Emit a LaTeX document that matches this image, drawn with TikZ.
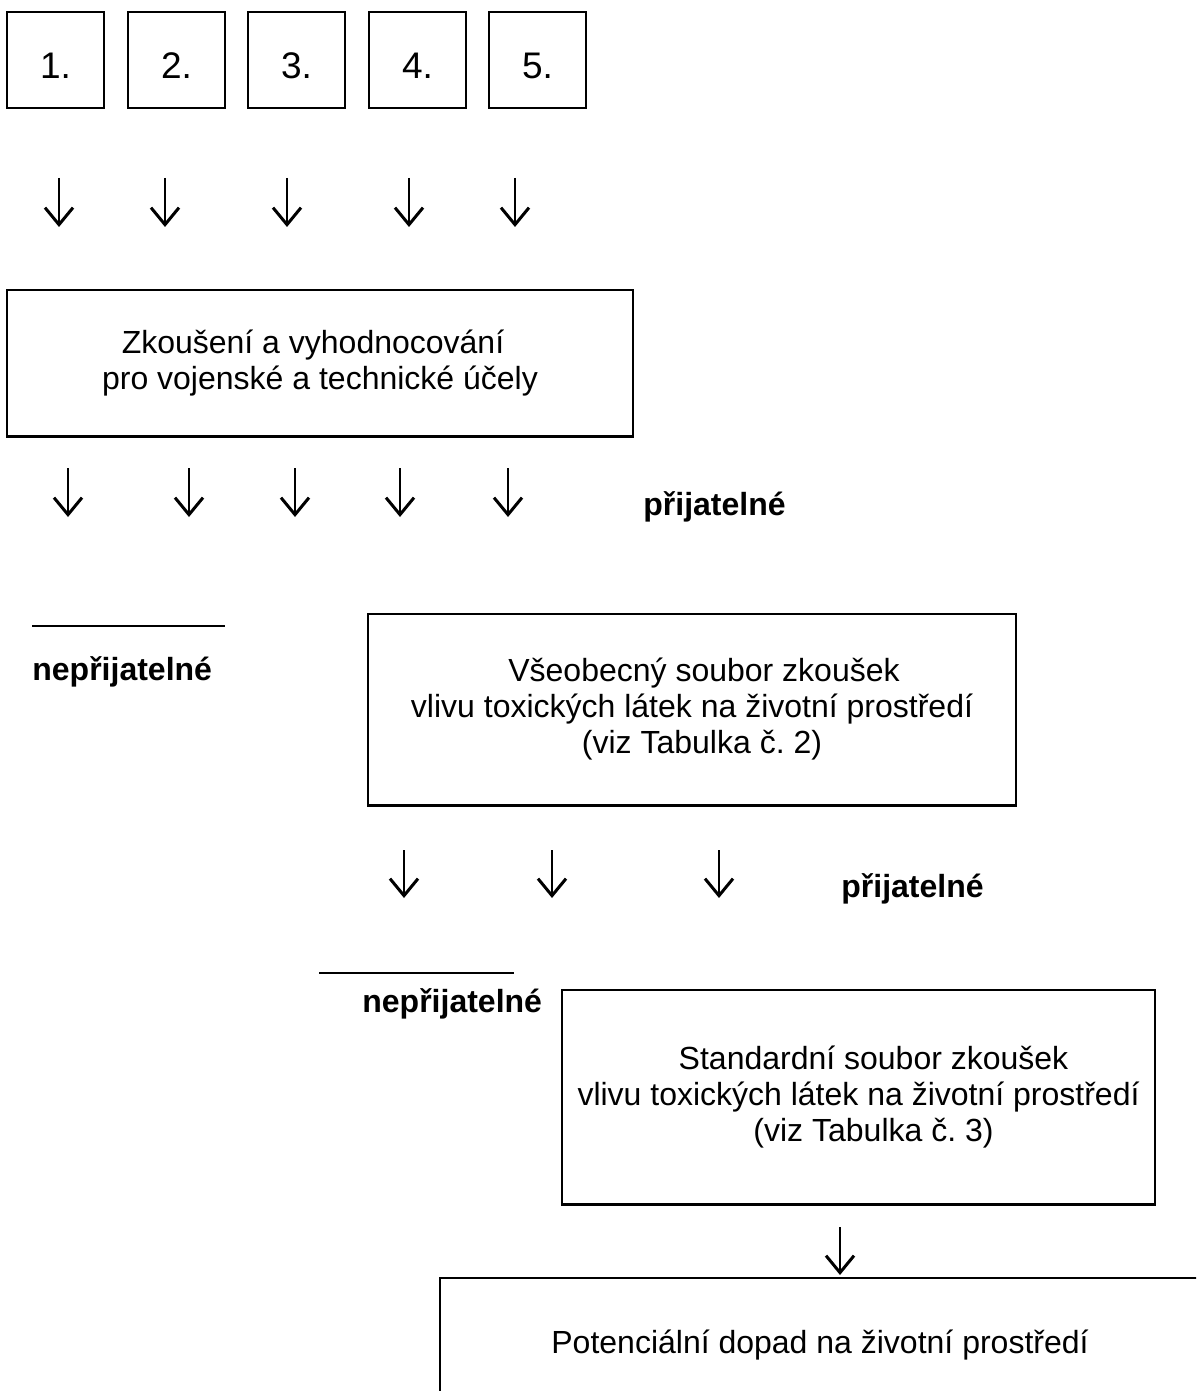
\documentclass[tikz,border=0pt]{standalone}
\usepackage{fontspec}
\setmainfont{Liberation Sans}
\usetikzlibrary{arrows.meta}
\frenchspacing
\newcommand{\bodyfont}{\fontsize{16pt}{18pt}\selectfont}
\newcommand{\digitfont}{\fontsize{18.5pt}{21pt}\selectfont}
\newcommand{\verdictfont}{\fontsize{16pt}{18pt}\selectfont\bfseries}
\tikzstyle{numbox} = [rectangle, minimum width=48.5pt, minimum height=48pt, inner sep=0pt, text height=18.6pt, text depth=0pt, draw=black, line width=0.9pt, font=\digitfont]
\tikzstyle{process} = [rectangle, align=center, inner sep=0pt, draw=black, line width=0.9pt, font=\bodyfont]
\tikzstyle{verdict} = [inner sep=0pt, anchor=base west, font=\verdictfont]
\tikzstyle{rule} = [line width=0.9pt]
\tikzstyle{heavy} = [line width=1.5pt]
\tikzstyle{arrow} = [line width=0.75pt, -{Straight Barb[length=8.5pt, width=14pt, line width=1.5pt]}]

\begin{document}
\begin{tikzpicture}[x=0.5pt, y=-0.5pt]
\useasboundingbox (0,0) rectangle (1196,1391);
\clip (0,0) rectangle (1196,1391);

% numbered inputs
\node (in1) [numbox] at (55.5,60) {1.};
\node (in2) [numbox] at (176.5,60) {2.};
\node (in3) [numbox] at (296.5,60) {3.};
\node (in4) [numbox] at (417.5,60) {4.};
\node (in5) [numbox] at (537.5,60) {5.};

% test stages
\node (testing) [process, minimum width=313pt, minimum height=73pt] at (320,363) {\hspace*{-7pt}Zkoušení a vyhodnocování\\pro vojenské a technické účely};
\node (general) [process, minimum width=324pt, minimum height=95.5pt] at (692,709.5) {\hspace*{12pt}Všeobecný soubor zkoušek\\vlivu toxických látek na životní prostředí\\\hspace*{10pt}(viz Tabulka č. 2)};
\node (standard) [process, minimum width=296.5pt, minimum height=107pt] at (858.5,1097) {\hspace*{15pt}Standardní soubor zkoušek\\vlivu toxických látek na životní prostředí\\\hspace*{15pt}(viz Tabulka č. 3)};
\node (impact) [process, minimum width=380pt, minimum height=67pt] at (820,1345) {Potenciální dopad na životní prostředí};
\draw [heavy] (testing.south west) -- (testing.south east);
\draw [heavy] (general.south west) -- (general.south east);
\draw [heavy] (standard.south west) -- (standard.south east);

% verdicts
\node (accept1) [verdict] at (643,515) {přijatelné};
\node (reject1) [verdict] at (32,680) {nepřijatelné};
\node (accept2) [verdict] at (841,897) {přijatelné};
\node (reject2) [verdict] at (362,1012) {nepřijatelné};

\coordinate (rej1_l) at (32,626);
\coordinate (rej1_r) at (225,626);
\coordinate (rej2_l) at (319,973);
\coordinate (rej2_r) at (514,973);
\draw [rule] (rej1_l) -- (rej1_r);
\draw [rule] (rej2_l) -- (rej2_r);

% arrow ends
\coordinate (a1_top) at (59,178);   \coordinate (a1_tip) at (59,227);
\coordinate (a2_top) at (165,178);  \coordinate (a2_tip) at (165,227);
\coordinate (a3_top) at (287,178);  \coordinate (a3_tip) at (287,227);
\coordinate (a4_top) at (409,178);  \coordinate (a4_tip) at (409,227);
\coordinate (a5_top) at (515,178);  \coordinate (a5_tip) at (515,227);
\coordinate (b1_top) at (68,468);   \coordinate (b1_tip) at (68,517);
\coordinate (b2_top) at (189,468);  \coordinate (b2_tip) at (189,517);
\coordinate (b3_top) at (295,468);  \coordinate (b3_tip) at (295,517);
\coordinate (b4_top) at (400,468);  \coordinate (b4_tip) at (400,517);
\coordinate (b5_top) at (508,468);  \coordinate (b5_tip) at (508,517);
\coordinate (c1_top) at (404,850);  \coordinate (c1_tip) at (404,898);
\coordinate (c2_top) at (552,850);  \coordinate (c2_tip) at (552,898);
\coordinate (c3_top) at (719,850);  \coordinate (c3_tip) at (719,898);
\coordinate (d1_top) at (840,1227); \coordinate (d1_tip) at (840,1275);

\draw [arrow] (a1_top) -- (a1_tip);
\draw [arrow] (a2_top) -- (a2_tip);
\draw [arrow] (a3_top) -- (a3_tip);
\draw [arrow] (a4_top) -- (a4_tip);
\draw [arrow] (a5_top) -- (a5_tip);
\draw [arrow] (b1_top) -- (b1_tip);
\draw [arrow] (b2_top) -- (b2_tip);
\draw [arrow] (b3_top) -- (b3_tip);
\draw [arrow] (b4_top) -- (b4_tip);
\draw [arrow] (b5_top) -- (b5_tip);
\draw [arrow] (c1_top) -- (c1_tip);
\draw [arrow] (c2_top) -- (c2_tip);
\draw [arrow] (c3_top) -- (c3_tip);
\draw [arrow] (d1_top) -- (d1_tip);
\end{tikzpicture}
\end{document}
